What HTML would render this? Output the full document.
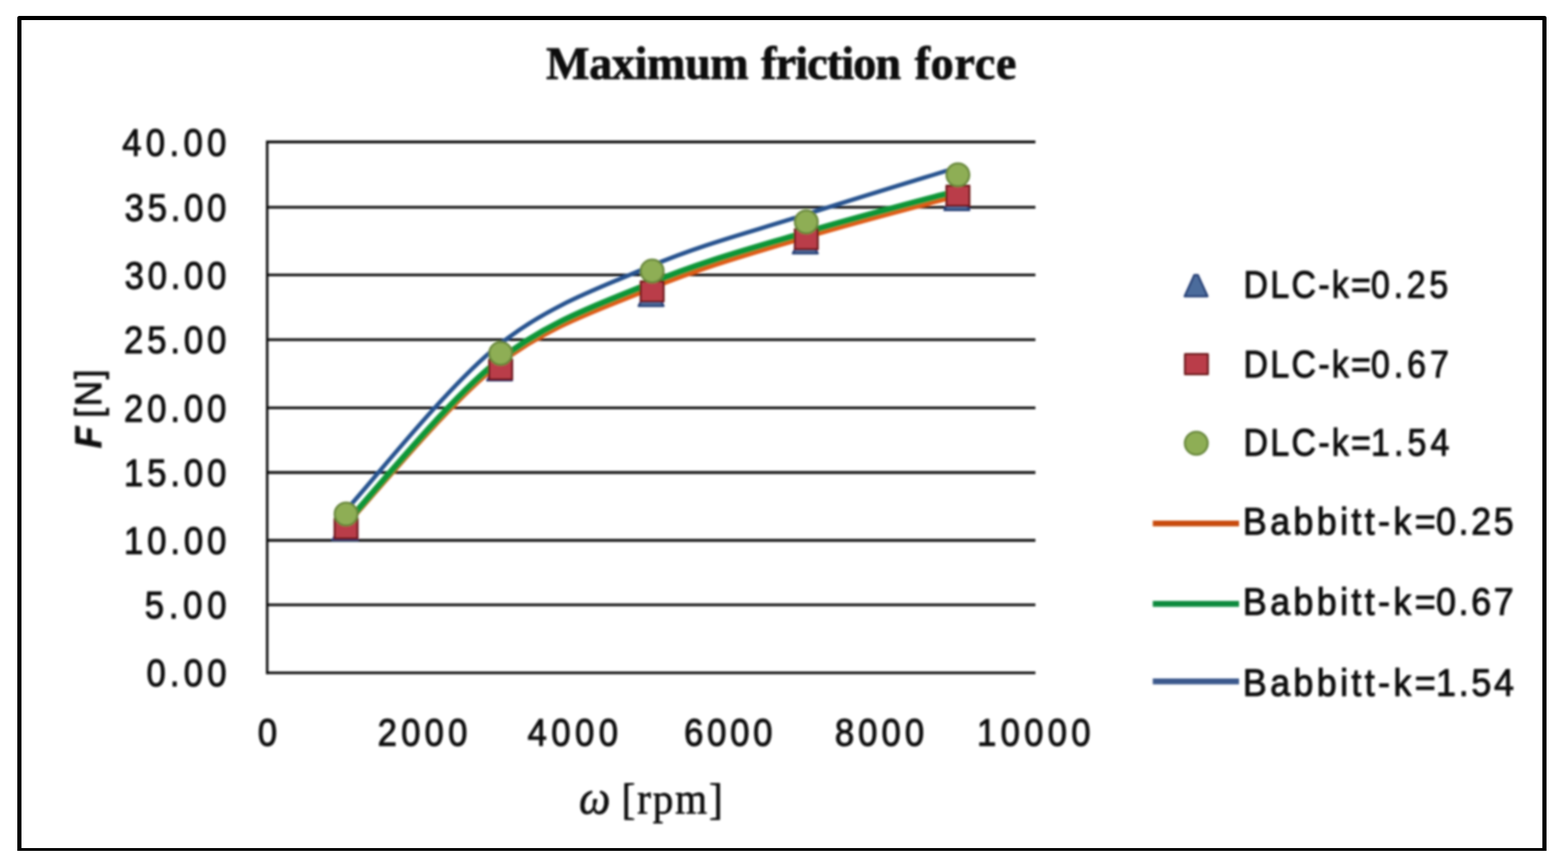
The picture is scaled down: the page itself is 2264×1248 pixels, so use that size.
<!DOCTYPE html>
<html lang="en"><head><meta charset="utf-8"><title>Maximum friction force</title>
<style>
html,body{margin:0;padding:0;background:#fff;}
body{width:2264px;height:1248px;overflow:hidden;}
svg{display:block;position:absolute;left:0;top:0;}
text{fill:#0a0a0a;stroke:#0a0a0a;stroke-linejoin:round;white-space:pre;}
.sans{font-family:"Liberation Sans",sans-serif;}
.serif{font-family:"Liberation Serif",serif;}
</style></head><body>
<svg width="2264" height="1248" viewBox="0 0 2264 1248">
<defs><filter id="soft" x="-2%" y="-2%" width="104%" height="104%"><feGaussianBlur stdDeviation="1.5"/></filter></defs>
<rect x="0" y="0" width="2264" height="1248" fill="#ffffff"/>
<g id="frame" fill="#000">
<path d="M28 23 H2230 Q2233 23 2233 26 V1229 H25 V26 Q25 23 28 23 Z M31 29 V1225 H2227 V29 Z" fill-rule="evenodd"/>
</g>
<g id="chart" filter="url(#soft)">
<g id="grid" stroke="#0c0c0c" stroke-width="3.8" fill="none">
<line x1="384.0" y1="205.0" x2="1495.0" y2="205.0"/>
<line x1="384.0" y1="299.3" x2="1495.0" y2="299.3"/>
<line x1="384.0" y1="397.2" x2="1495.0" y2="397.2"/>
<line x1="384.0" y1="490.6" x2="1495.0" y2="490.6"/>
<line x1="384.0" y1="589.1" x2="1495.0" y2="589.1"/>
<line x1="384.0" y1="682.5" x2="1495.0" y2="682.5"/>
<line x1="384.0" y1="780.5" x2="1495.0" y2="780.5"/>
<line x1="384.0" y1="873.6" x2="1495.0" y2="873.6"/>
<line x1="384.0" y1="971.8" x2="1495.0" y2="971.8"/>
<line x1="385.8" y1="203.0" x2="385.8" y2="973.8" stroke-width="3.6"/>
</g>
<g id="curves" fill="none" stroke-linecap="round" stroke-linejoin="round">
<path d="M497.0 760.0 C533.9 721.0 644.6 583.6 718.4 526.2 C792.2 468.8 866.1 446.1 940.0 415.4 C1013.9 384.7 1087.7 364.3 1161.6 342.0 C1235.5 319.7 1346.3 291.5 1383.2 281.4" stroke="#e05c14" stroke-width="9"/>
<path d="M497.0 758.7 C533.9 719.3 644.6 580.5 718.4 522.2 C792.2 463.9 866.1 439.9 940.0 408.9 C1013.9 377.9 1087.7 358.5 1161.6 336.3 C1235.5 314.1 1346.3 285.7 1383.2 275.6" stroke="#0b9638" stroke-width="9.2"/>
<path d="M497.0 739.9 C533.9 699.9 644.6 559.1 718.4 499.8 C792.2 440.5 866.1 415.8 940.0 384.2 C1013.9 352.6 1087.7 334.2 1161.6 310.4 C1235.5 286.6 1346.3 253.1 1383.2 241.6" stroke="#27528f" stroke-width="6.2"/>
</g>
<g id="markers" stroke-width="3" stroke-linejoin="round">
<path d="M495.7 749.1 L500.7 749.1 L516.2 780.1 L480.2 780.1 Z" fill="#4c6c9c" stroke="#243c74"/>
<path d="M718.9 518.5 L723.9 518.5 L739.4 549.5 L703.4 549.5 Z" fill="#4c6c9c" stroke="#243c74"/>
<path d="M937.6 410.9 L942.6 410.9 L958.1 441.9 L922.1 441.9 Z" fill="#4c6c9c" stroke="#243c74"/>
<path d="M1160.2 335.1 L1165.2 335.1 L1180.7 366.1 L1144.7 366.1 Z" fill="#4c6c9c" stroke="#243c74"/>
<path d="M1379.1 272.4 L1384.1 272.4 L1399.6 303.4 L1363.6 303.4 Z" fill="#4c6c9c" stroke="#243c74"/>
<rect x="483.2" y="748.7" width="33" height="29" fill="#ba3d49" stroke="#6c1319"/>
<rect x="706.4" y="519.1" width="33" height="29" fill="#ba3d49" stroke="#6c1319"/>
<rect x="925.1" y="406.5" width="33" height="29" fill="#ba3d49" stroke="#6c1319"/>
<rect x="1147.7" y="331.1" width="33" height="29" fill="#ba3d49" stroke="#6c1319"/>
<rect x="1366.6" y="268.3" width="33" height="29" fill="#ba3d49" stroke="#6c1319"/>
<circle cx="499.7" cy="742.6" r="16.5" fill="#8eae54" stroke="#66863a"/>
<circle cx="722.9" cy="510.4" r="16.5" fill="#8eae54" stroke="#66863a"/>
<circle cx="941.6" cy="391.4" r="16.5" fill="#8eae54" stroke="#66863a"/>
<circle cx="1164.2" cy="320.6" r="16.5" fill="#8eae54" stroke="#66863a"/>
<circle cx="1383.1" cy="252.6" r="16.5" fill="#8eae54" stroke="#66863a"/>
</g>
<g id="legend-keys" stroke-linejoin="round" stroke-width="3">
<path d="M1724.5 397.2 L1729.5 397.2 L1743.5 427.9 L1710.5 427.9 Z" fill="#4c6c9c" stroke="#243c74"/>
<rect x="1711" y="511.5" width="33" height="29" fill="#ba3d49" stroke="#6c1319"/>
<circle cx="1727.3" cy="640.3" r="16.5" fill="#8eae54" stroke="#66863a"/>
<line x1="1664.5" y1="756.1" x2="1789" y2="756.1" stroke="#c84c0a" stroke-width="8.4"/>
<line x1="1664.5" y1="872.3" x2="1789" y2="872.3" stroke="#0c8a3c" stroke-width="8.4"/>
<line x1="1664.5" y1="984.3" x2="1789" y2="984.3" stroke="#3a588c" stroke-width="8.4"/>
</g>
<g id="labels">
<text class="serif" style="font-size:67.5px;stroke-width:1.10px" transform="translate(0 113.9) scale(0.9850 1)"><tspan x="800.61" style="letter-spacing:-0.51px;font-weight:bold">Maximum</tspan> <tspan x="1115.84" style="letter-spacing:-1.25px;font-weight:bold">friction</tspan> <tspan x="1340.81" style="letter-spacing:1.02px;font-weight:bold">force</tspan></text>
<text class="sans" style="font-size:55.0px;stroke-width:1.40px" transform="translate(0 224.6) scale(0.9100 1)"><tspan x="193.96" style="letter-spacing:6.90px">40.00</tspan></text>
<text class="sans" style="font-size:55.0px;stroke-width:1.40px" transform="translate(0 318.9) scale(0.9100 1)"><tspan x="197.80" style="letter-spacing:5.93px">35.00</tspan></text>
<text class="sans" style="font-size:55.0px;stroke-width:1.40px" transform="translate(0 416.8) scale(0.9100 1)"><tspan x="197.80" style="letter-spacing:5.93px">30.00</tspan></text>
<text class="sans" style="font-size:55.0px;stroke-width:1.40px" transform="translate(0 510.2) scale(0.9100 1)"><tspan x="196.70" style="letter-spacing:6.21px">25.00</tspan></text>
<text class="sans" style="font-size:55.0px;stroke-width:1.40px" transform="translate(0 608.7) scale(0.9100 1)"><tspan x="196.70" style="letter-spacing:6.21px">20.00</tspan></text>
<text class="sans" style="font-size:55.0px;stroke-width:1.40px" transform="translate(0 702.1) scale(0.9100 1)"><tspan x="196.70" style="letter-spacing:6.21px">15.00</tspan></text>
<text class="sans" style="font-size:55.0px;stroke-width:1.40px" transform="translate(0 800.1) scale(0.9100 1)"><tspan x="196.70" style="letter-spacing:6.21px">10.00</tspan></text>
<text class="sans" style="font-size:55.0px;stroke-width:1.40px" transform="translate(0 893.2) scale(0.9100 1)"><tspan x="229.67" style="letter-spacing:7.55px">5.00</tspan></text>
<text class="sans" style="font-size:55.0px;stroke-width:1.40px" transform="translate(0 991.4) scale(0.9100 1)"><tspan x="232.42" style="letter-spacing:6.63px">0.00</tspan></text>
<text class="sans" style="font-size:55.0px;stroke-width:1.40px" transform="translate(0 1076.8) scale(0.9100 1)"><tspan x="409.12">0</tspan></text>
<text class="sans" style="font-size:55.0px;stroke-width:1.40px" transform="translate(0 1076.8) scale(0.9100 1)"><tspan x="599.12" style="letter-spacing:6.74px">2000</tspan></text>
<text class="sans" style="font-size:55.0px;stroke-width:1.40px" transform="translate(0 1076.8) scale(0.9100 1)"><tspan x="837.03" style="letter-spacing:7.07px">4000</tspan></text>
<text class="sans" style="font-size:55.0px;stroke-width:1.40px" transform="translate(0 1076.8) scale(0.9100 1)"><tspan x="1085.38" style="letter-spacing:6.01px">6000</tspan></text>
<text class="sans" style="font-size:55.0px;stroke-width:1.40px" transform="translate(0 1076.8) scale(0.9100 1)"><tspan x="1324.62" style="letter-spacing:6.48px">8000</tspan></text>
<text class="sans" style="font-size:55.0px;stroke-width:1.40px" transform="translate(0 1076.8) scale(0.9100 1)"><tspan x="1550.22" style="letter-spacing:6.79px">10000</tspan></text>
<text class="serif" style="font-size:64.0px;stroke-width:0.90px" transform="translate(0 1174.9) scale(0.9300 1)"><tspan x="898.87" style="font-style:italic;font-size:69.0px">ω</tspan> <tspan x="965.16" style="letter-spacing:2.80px">[rpm]</tspan></text>
<text class="sans" style="font-size:53.0px;stroke-width:1.20px" transform="translate(146.0 644.3) rotate(-90) scale(0.9600 1)"><tspan x="-3.28" style="font-weight:bold;font-style:italic">F</tspan> <tspan x="42.71" style="letter-spacing:2.34px">[N]</tspan></text>
<text class="sans" style="font-size:55.0px;stroke-width:1.40px" transform="translate(0 429.6) scale(0.8900 1)"><tspan x="2017.53" style="letter-spacing:3.73px">DLC-k=</tspan><tspan x="2224.27" style="letter-spacing:6.07px">0.25</tspan></text>
<text class="sans" style="font-size:55.0px;stroke-width:1.40px" transform="translate(0 545.4) scale(0.8900 1)"><tspan x="2017.53" style="letter-spacing:3.73px">DLC-k=</tspan><tspan x="2224.27" style="letter-spacing:6.44px">0.67</tspan></text>
<text class="sans" style="font-size:55.0px;stroke-width:1.40px" transform="translate(0 657.7) scale(0.8900 1)"><tspan x="2017.53" style="letter-spacing:3.73px">DLC-k=</tspan><tspan x="2224.16" style="letter-spacing:6.74px">1.54</tspan></text>
<text class="sans" style="font-size:55.0px;stroke-width:1.40px" transform="translate(0 772.3) scale(0.9400 1)"><tspan x="1909.15" style="letter-spacing:5.22px">Babbitt-k=</tspan><tspan x="2205.96" style="letter-spacing:3.97px">0.25</tspan></text>
<text class="sans" style="font-size:55.0px;stroke-width:1.40px" transform="translate(0 888.1) scale(0.9400 1)"><tspan x="1909.15" style="letter-spacing:5.22px">Babbitt-k=</tspan><tspan x="2205.96" style="letter-spacing:3.97px">0.67</tspan></text>
<text class="sans" style="font-size:55.0px;stroke-width:1.40px" transform="translate(0 1004.5) scale(0.9400 1)"><tspan x="1909.15" style="letter-spacing:5.22px">Babbitt-k=</tspan><tspan x="2205.85" style="letter-spacing:4.26px">1.54</tspan></text>
</g>
</g>
</svg>
</body></html>
